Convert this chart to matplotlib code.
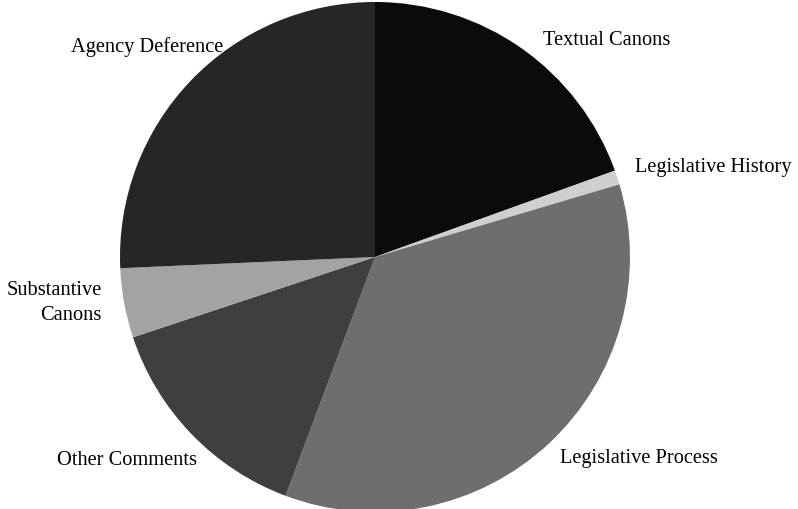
import matplotlib.pyplot as plt

labels = ["Textual Canons", "Legislative History", "Legislative Process",
          "Other Comments", "Substantive\nCanons", "Agency Deference"]
shares = [19.5, 0.9, 35.3, 14.2, 4.4, 25.7]
colors = ["#0b0b0b", "#cfcfcf", "#6e6e6e", "#3f3f3f", "#a3a3a3", "#262626"]

# label anchors in pie units (radius 1), with alignment
label_pos = [(0.659, 0.831, "left", "baseline"), (1.02, 0.333, "left", "baseline"),
             (0.725, -0.808, "left", "baseline"), (-0.698, -0.816, "right", "baseline"),
             (-1.071, -0.18, "right", "center"), (-0.596, 0.804, "right", "baseline")]

fig = plt.figure(figsize=(7.98, 5.09), dpi=100)
ax = fig.add_axes([0, 0, 1, 1])
wedges, _ = ax.pie(shares, colors=colors, startangle=90, counterclock=False,
                   radius=1.0, wedgeprops=dict(linewidth=0))
for name, (x, y, ha, va) in zip(labels, label_pos):
    ax.text(x, y, name, ha=ha, va=va, fontsize=14.7,
            family="Liberation Serif", multialignment=ha, linespacing=1.4)

ax.set_xlim(-375 / 255, (798 - 375) / 255)
ax.set_ylim((257 - 509) / 255, 257 / 255)
ax.set_aspect("equal")
ax.axis("off")
fig.savefig("out.png", dpi=100)
